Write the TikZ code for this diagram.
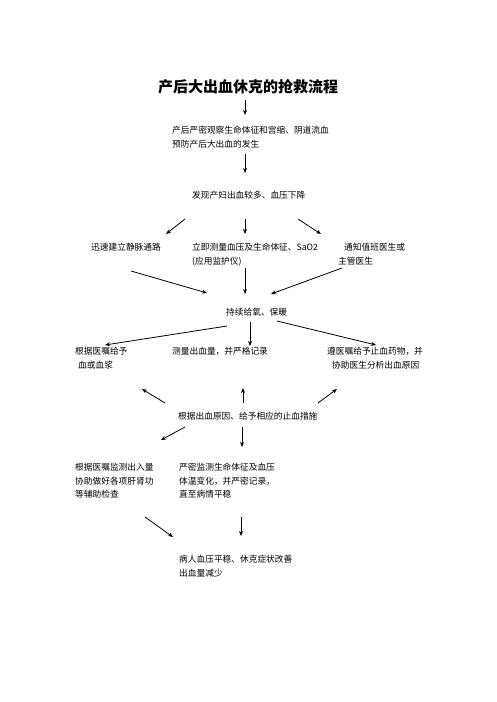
\documentclass[tikz,border=0pt]{standalone}
\usepackage{fontspec}
\newfontfamily\cjk{Noto Sans CJK SC}
\usetikzlibrary{arrows.meta}
\begin{document}
\begin{tikzpicture}[x=1pt,y=-1pt]
                        \tikzstyle{txt}=[anchor=north west,inner sep=0pt,align=left,font=\cjk\fontsize{8.7}{13.5}\selectfont]
                        \tikzstyle{arr}=[-{Stealth[length=5pt,width=4pt]},line width=0.8pt]
                        \useasboundingbox (0,0) rectangle (496,702);
                        \node[font=\cjk\bfseries\fontsize{15}{18}\selectfont] (title) at (248,87) {产后大出血休克的抢救流程};
                        \node[txt] (watch) at (172,126) {产后严密观察生命体征和宫缩、阴道流血\\预防产后大出血的发生};
                        \node[txt] (found) at (192,191) {发现产妇出血较多、血压下降};
                        \node[txt] (vein) at (91,243) {迅速建立静脉通路};
                        \node[txt] (measure) at (192,243) {立即测量血压及生命体征、SaO2\\(应用监护仪)};
                        \node[txt] (notify) at (344,243) {通知值班医生或\\\hspace*{-6pt}主管医生};
                        \node[txt] (oxygen) at (226,308) {持续给氧、保暖};
                        \node[txt] (blood) at (75,347) {根据医嘱给予\\\hspace*{3pt}血或血浆};
                        \node[txt] (volume) at (172,347) {测量出血量，并严格记录};
                        \node[txt] (drug) at (327,347) {遵医嘱给予止血药物，并\\\hspace*{5pt}协助医生分析出血原因};
                        \node[txt] (stop) at (178,412) {根据出血原因、给予相应的止血措施};
                        \node[txt] (io) at (75,463) {根据医嘱监测出入量\\协助做好各项肝肾功\\等辅助检查};
                        \node[txt] (vital) at (179,463) {严密监测生命体征及血压\\体温变化，并严密记录，\\直至病情平稳};
                        \node[txt] (stable) at (179,555) {病人血压平稳、休克症状改善\\出血量减少};
                        % arrow ends
                        \coordinate (t1) at (245,100); \coordinate (h1) at (245,115);
                        \coordinate (t2) at (245,154); \coordinate (h2) at (245,173);
                        \coordinate (t3) at (185,219); \coordinate (h3) at (166,234);
                        \coordinate (t4) at (245,219); \coordinate (h4) at (245,234);
                        \coordinate (t5) at (298,219); \coordinate (h5) at (321,234);
                        \coordinate (t6) at (131,271); \coordinate (h6) at (207,293);
                        \coordinate (t7) at (245,268); \coordinate (h7) at (245,294);
                        \coordinate (t8) at (342,268); \coordinate (h8) at (271,294);
                        \coordinate (t9) at (227,326); \coordinate (h9) at (105,345);
                        \coordinate (t10) at (250,322); \coordinate (h10) at (250,346);
                        \coordinate (t11) at (277,321); \coordinate (h11) at (376,345);
                        \coordinate (t12) at (165,403); \coordinate (h12) at (142,389);
                        \coordinate (t13) at (243,403); \coordinate (h13) at (243,388);
                        \coordinate (t14) at (318,403); \coordinate (h14) at (337,389);
                        \coordinate (t15) at (185,427); \coordinate (h15) at (161,440);
                        \coordinate (t16) at (242,427); \coordinate (h16) at (242,447);
                        \coordinate (t17) at (145,517); \coordinate (h17) at (173,537);
                        \coordinate (t18) at (241,517); \coordinate (h18) at (241,536);
                        \draw[arr] (t1) -- (h1);
                        \draw[arr] (t2) -- (h2);
                        \draw[arr] (t3) -- (h3);
                        \draw[arr] (t4) -- (h4);
                        \draw[arr] (t5) -- (h5);
                        \draw[arr] (t6) -- (h6);
                        \draw[arr] (t7) -- (h7);
                        \draw[arr] (t8) -- (h8);
                        \draw[arr] (t9) -- (h9);
                        \draw[arr] (t10) -- (h10);
                        \draw[arr] (t11) -- (h11);
                        \draw[arr] (t12) -- (h12);
                        \draw[arr] (t13) -- (h13);
                        \draw[arr] (t14) -- (h14);
                        \draw[arr] (t15) -- (h15);
                        \draw[arr] (t16) -- (h16);
                        \draw[arr] (t17) -- (h17);
                        \draw[arr] (t18) -- (h18);
                    \end{tikzpicture}
\end{document}
